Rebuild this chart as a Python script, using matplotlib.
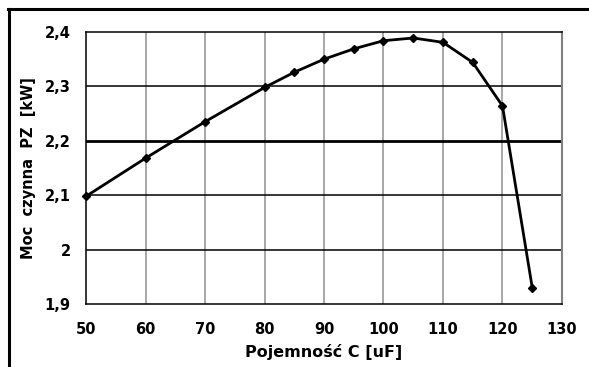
import matplotlib
matplotlib.use("Agg")
import matplotlib.pyplot as plt
from matplotlib.lines import Line2D

capacitance = [50, 60, 70, 80, 85, 90, 95, 100, 105, 110, 115, 120, 125]
power_kw = [2.098, 2.168, 2.235, 2.298, 2.326, 2.350, 2.369, 2.384, 2.389, 2.381, 2.344, 2.264, 1.930]
x_ticks = [50, 60, 70, 80, 90, 100, 110, 120, 130]
y_ticks = [1.9, 2.0, 2.1, 2.2, 2.3, 2.4]
y_tick_labels = ["1,9", "2", "2,1", "2,2", "2,3", "2,4"]

plt.rcParams['font.family'] = ['DejaVu Sans']

fig = plt.figure(figsize=(5.89, 3.67), dpi=100)
W, H = 589, 367
ax = fig.add_axes([86 / W, 1 - 304 / H, (562 - 86) / W, (304 - 32) / H])

ax.set_xlim(50, 130)
ax.set_ylim(1.9, 2.4)
ax.set_xticks(x_ticks)
ax.set_yticks(y_ticks)
ax.set_yticklabels(y_tick_labels)

for xv in x_ticks[1:-1]:
    ax.axvline(xv, color='#a0a0a0', lw=1.3, zorder=1)
for yv in y_ticks[1:-1]:
    ax.axhline(yv, color='black', lw=2.0 if abs(yv - 2.2) < 1e-9 else 1.1, zorder=1)

ax.plot(capacitance, power_kw, color='black', lw=2.0, marker='D', markersize=4.5,
        markerfacecolor='black', markeredgecolor='black', zorder=3, clip_on=False)

for side in ['left', 'bottom', 'top']:
    ax.spines[side].set_color('black')
    ax.spines[side].set_linewidth(1.1)
ax.spines['right'].set_color('#808080')
ax.spines['right'].set_linewidth(1.5)

ax.tick_params(axis='x', length=0, pad=13, labelsize=10.5)
ax.tick_params(axis='y', length=0, pad=11, labelsize=10.5)
for lab in ax.get_xticklabels() + ax.get_yticklabels():
    lab.set_fontweight('bold')

ax.set_xlabel("Pojemność C [uF]", fontsize=11.5, fontweight='bold', labelpad=5)
ax.set_ylabel("Moc  czynna  PZ  [kW]", fontsize=10.5, fontweight='bold', labelpad=6)

# outer frame (top and left)
fig.add_artist(Line2D([8 / W, 1], [1 - 9 / H, 1 - 9 / H], color='black', lw=2.2, transform=fig.transFigure))
fig.add_artist(Line2D([8.5 / W, 8.5 / W], [0, 1 - 9 / H], color='black', lw=2.2, transform=fig.transFigure))

fig.savefig("out.png", dpi=100)
